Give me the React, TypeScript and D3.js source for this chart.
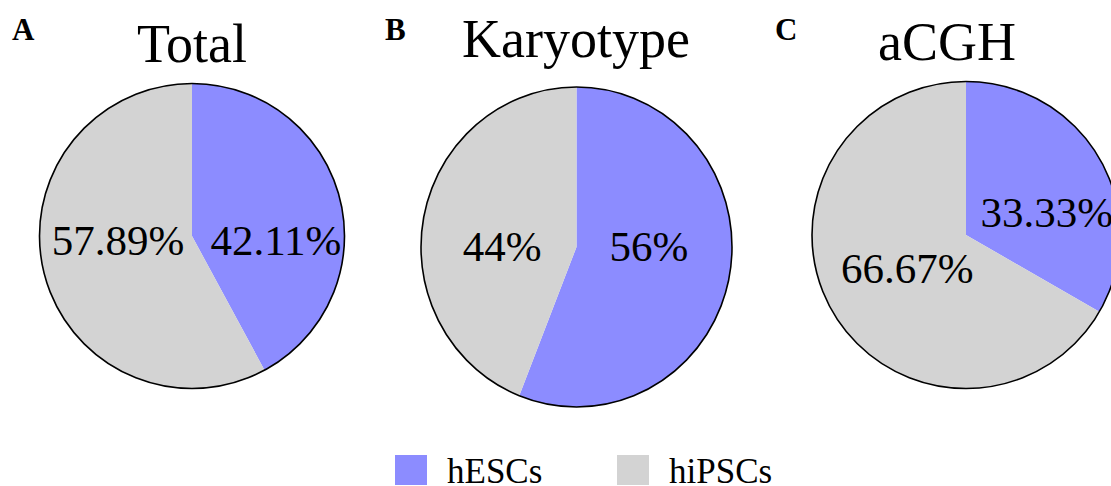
import React from "react";
import * as d3 from "d3";

const panels = ["A", "B", "C"];
const titles = ["Total", "Karyotype", "aCGH"];
const categories = ["hESCs", "hiPSCs"];
const hescValues = [42.11, 56, 33.33];
const hipscValues = [57.89, 44, 66.67];
const labelTexts = [
  ["42.11%", "57.89%"],
  ["56%", "44%"],
  ["33.33%", "66.67%"],
];

// layout (not data)
const W = 1111;
const H = 486;
const pieGeom = [
  { cx: 192, cy: 236, rx: 152.5, ry: 152.5 },
  { cx: 576.5, cy: 247, rx: 155.5, ry: 160 },
  { cx: 966, cy: 235, rx: 154, ry: 153.5 },
];
const titleX = [192, 576, 947];
const titleY = [62, 57, 60];
const panelX = [12, 385, 775];
const labelNudge = [
  [[10, 23], [0, -15]],
  [[-4, -16], [2, 14]],
  [[14, 15], [8, -5]],
];
const colors = d3.scaleOrdinal<string, string>().domain(categories).range(["#8c8cff", "#d3d3d3"]);
const FONT = "'Liberation Serif', 'Times New Roman', serif";

export default function App() {
  const pie = d3.pie<number>().sort(null).value((d) => d);
  return (
    <svg width={W} height={H} style={{ position: "absolute", left: 0, top: 0, background: "#fff" }}>
      {panels.map((p, i) => {
        const g = pieGeom[i];
        const vals = [hescValues[i], hipscValues[i]];
        const arcs = pie(vals);
        const arc = d3.arc<d3.PieArcDatum<number>>().innerRadius(0).outerRadius(g.rx);
        const sy = g.ry / g.rx;
        return (
          <g key={p}>
            <text x={panelX[i]} y={40} fontFamily={FONT} fontWeight="bold" fontSize={31} fill="#000">
              {p}
            </text>
            <text x={titleX[i]} y={titleY[i]} textAnchor="middle" fontFamily={FONT} fontSize={54} fill="#000">
              {titles[i]}
            </text>
            <g transform={`translate(${g.cx},${g.cy}) scale(1,${sy})`}>
              {arcs.map((a, j) => (
                <path key={j} d={arc(a) || ""} fill={colors(categories[j])} stroke="none" />
              ))}
              <ellipse cx={0} cy={0} rx={g.rx} ry={g.rx} fill="none" stroke="#000" strokeWidth={1.6 / Math.sqrt(sy)} />
            </g>
            {arcs.map((a, j) => {
              const [x, y] = arc.centroid(a);
              return (
                <text
                  key={"l" + j}
                  x={g.cx + x + labelNudge[i][j][0]}
                  y={g.cy + y * sy + labelNudge[i][j][1]}
                  dy="0.35em"
                  textAnchor="middle"
                  fontFamily={FONT}
                  fontSize={43}
                  fill="#000"
                >
                  {labelTexts[i][j]}
                </text>
              );
            })}
          </g>
        );
      })}
      {categories.map((c, j) => {
        const x0 = [395, 617][j];
        return (
          <g key={c}>
            <rect x={x0} y={455} width={32} height={30} fill={colors(c)} />
            <text x={x0 + 52} y={483} fontFamily={FONT} fontSize={35} fill="#000">
              {c}
            </text>
          </g>
        );
      })}
    </svg>
  );
}
